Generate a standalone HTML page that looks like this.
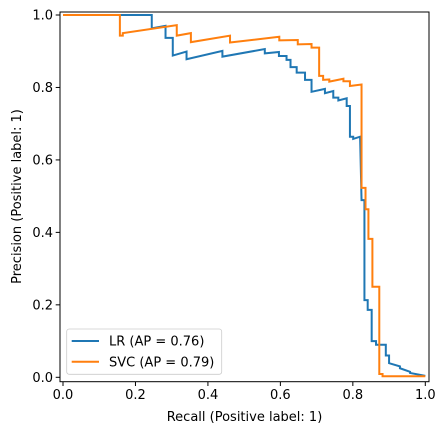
<!DOCTYPE html>
<html><head><meta charset="utf-8"><style>
html,body{margin:0;padding:0;background:#fff;}
svg{display:block;font-family:"DejaVu Sans","Liberation Sans",sans-serif;}
</style></head><body>
<svg id="chart" width="445" height="433" viewBox="0 0 445 433" xmlns="http://www.w3.org/2000/svg"></svg>
<script>
// Data (recall, precision vertices; repeated recall = vertical drop)
const lrRecall = [0,0.245,0.245,0.283,0.283,0.303,0.303,0.341,0.341,0.44,0.44,0.557,0.557,0.596,0.596,0.617,0.617,0.628,0.628,0.645,0.645,0.668,0.668,0.686,0.686,0.723,0.723,0.746,0.746,0.76,0.76,0.783,0.783,0.792,0.792,0.801,0.801,0.82,0.82,0.824,0.824,0.832,0.832,0.841,0.841,0.852,0.852,0.864,0.864,0.891,0.891,0.9,0.9,0.93,0.93,0.958,0.958,1.0];
const lrPrecision = [1.0,1.0,0.963,0.97,0.937,0.937,0.888,0.899,0.878,0.901,0.885,0.906,0.894,0.898,0.887,0.887,0.876,0.876,0.856,0.856,0.841,0.841,0.821,0.821,0.788,0.796,0.784,0.79,0.772,0.772,0.764,0.77,0.749,0.749,0.664,0.664,0.658,0.664,0.664,0.489,0.489,0.489,0.213,0.213,0.186,0.186,0.1,0.1,0.09,0.09,0.06,0.06,0.039,0.03,0.025,0.015,0.012,0.004];
const svcRecall = [0,0.157,0.157,0.165,0.165,0.314,0.314,0.353,0.353,0.461,0.461,0.597,0.597,0.648,0.648,0.686,0.686,0.707,0.707,0.718,0.718,0.735,0.735,0.774,0.774,0.792,0.792,0.824,0.824,0.835,0.835,0.843,0.843,0.854,0.854,0.873,0.873,0.882,0.882,1.0];
const svcPrecision = [1.0,1.0,0.943,0.943,0.95,0.972,0.943,0.95,0.925,0.943,0.924,0.94,0.93,0.931,0.919,0.92,0.91,0.91,0.832,0.832,0.821,0.822,0.816,0.824,0.817,0.817,0.804,0.808,0.523,0.523,0.464,0.464,0.382,0.382,0.25,0.25,0.009,0.009,0.003,0.003];
const xTicks = [0,0.2,0.4,0.6,0.8,1.0];
const yTicks = [0,0.2,0.4,0.6,0.8,1.0];
const tickLabels = ["0.0","0.2","0.4","0.6","0.8","1.0"];
const legendLabels = ["LR (AP = 0.76)","SVC (AP = 0.79)"];

const NS="http://www.w3.org/2000/svg";
const svg=document.getElementById('chart');
const X=v=>63+362.3*v, Y=v=>377.3-362.3*v;
function mk(tag,attrs,parent){const e=document.createElementNS(NS,tag);for(const k in attrs)e.setAttribute(k,attrs[k]);(parent||svg).appendChild(e);return e;}

function series(xs,ys,color,name){
  const p=mk('polyline',{points:xs.map((x,i)=>X(x).toFixed(2)+','+Y(ys[i]).toFixed(2)).join(' '),fill:'none',stroke:color,'stroke-width':2,'stroke-linejoin':'miter'});
  
  
}
series(lrRecall,lrPrecision,'#1f77b4','lr-curve');
series(svcRecall,svcPrecision,'#ff7f0e','svc-curve');

const frame=mk('rect',{x:60,y:12,width:369,height:369.7,fill:'none',stroke:'#000','stroke-width':1});



xTicks.forEach((v,i)=>{
  const t=mk('line',{x1:X(v),x2:X(v),y1:381.7,y2:386,stroke:'#000','stroke-width':1});
  
  
  const l=mk('text',{x:X(v),y:399,'font-size':13,'text-anchor':'middle',fill:'#000'});
  l.textContent=tickLabels[i];
  
  
});
yTicks.forEach((v,i)=>{
  const t=mk('line',{x1:55.7,x2:60,y1:Y(v),y2:Y(v),stroke:'#000','stroke-width':1});
  
  
  const l=mk('text',{x:53,y:Y(v)+4.7,'font-size':13,'text-anchor':'end',fill:'#000'});
  l.textContent=tickLabels[i];
  
  
});

const xt=mk('text',{x:244.5,y:421,'font-size':13,'text-anchor':'middle',fill:'#000'});
xt.textContent='Recall (Positive label: 1)';


const yt=mk('text',{x:0,y:0,'font-size':13,'text-anchor':'middle',fill:'#000',transform:'translate(21,196.5) rotate(-90)'});
yt.textContent='Precision (Positive label: 1)';



const lg=mk('g',{});


mk('rect',{x:66.7,y:329,width:155,height:45.3,rx:2.5,fill:'#fff','fill-opacity':0.8,stroke:'#ccc','stroke-width':0.8},lg);
const colors=['#1f77b4','#ff7f0e'];
legendLabels.forEach((txt,i)=>{
  const yy=341+i*20.7;
  const ln=mk('line',{x1:71.7,x2:99,y1:yy,y2:yy,stroke:colors[i],'stroke-width':2},lg);
  
  
  const t=mk('text',{x:109,y:yy+4.7,'font-size':13,fill:'#000'},lg);
  t.textContent=txt;
  
  
});
</script>
</body></html>
